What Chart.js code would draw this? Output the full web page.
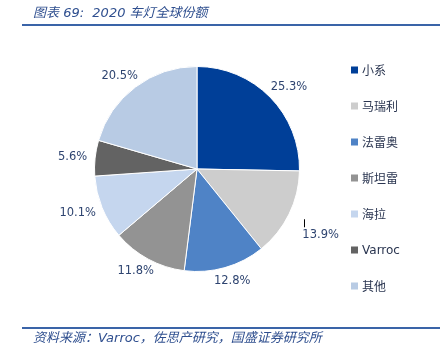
<!DOCTYPE html>
<html><head><meta charset="utf-8">
<script src="https://cdn.jsdelivr.net/npm/chart.js@4.4.1/dist/chart.umd.min.js"></script>
<style>
html,body{margin:0;padding:0;background:#fff;}
#wrap{position:relative;width:441px;height:351px;overflow:hidden;}
canvas{position:absolute;left:0;top:0;}
.t{position:absolute;font-family:"DejaVu Sans","Noto Sans CJK SC",sans-serif;font-style:italic;color:#2F4F8F;white-space:pre;}
.t .c{font-family:"Noto Sans CJK SC",sans-serif;}
#title{left:33px;top:3px;font-size:13px;line-height:18px;}
#foot{left:33px;top:328px;font-size:13px;line-height:18px;}
.rule{position:absolute;left:22px;width:418px;height:2px;background:#3A64A8;}
</style></head>
<body><div id="wrap">
<canvas id="c" width="441" height="351"></canvas>
<div id="title" class="t"><span class="c">图表</span> 69:  2020 <span class="c">车灯全球份额</span></div>
<div class="rule" style="top:24px"></div>
<div class="rule" style="top:327px"></div>
<div id="foot" class="t"><span class="c">资料来源：</span>Varroc<span class="c">，佐思产研究，国盛证券研究所</span></div>
</div>
<script>
const categories = ["小系","马瑞利","法雷奥","斯坦雷","海拉","Varroc","其他"];
const shares = [25.3, 13.9, 12.8, 11.8, 10.1, 5.6, 20.5];
const colors = ["#003F98","#CDCDCD","#4F83C6","#939393","#C5D6EE","#636363","#B8CBE4"];

const labelPlugin = {
  id:'labels',
  afterDatasetsDraw(chart, args, opts){
    const ctx = chart.ctx;
    const meta = chart.getDatasetMeta(0);
    ctx.save();
    ctx.font = '11.5px "DejaVu Sans", Verdana, sans-serif';
    ctx.fillStyle = '#2E4470';
    ctx.textAlign = 'center';
    ctx.textBaseline = 'middle';
    meta.data.forEach((arc, i) => {
      const p = arc.getProps(['x','y','startAngle','endAngle','outerRadius'], true);
      const mid = (p.startAngle + p.endAngle)/2;
      const txt = shares[i].toFixed(1) + '%';
      const w = ctx.measureText(txt).width;
      const cx = Math.cos(mid), sy = Math.sin(mid);
      const r = p.outerRadius + 8;
      let x = p.x + r*cx + (w/2)*cx;
      let y = p.y + r*sy + 6*sy;
      const off = (opts.moved || {})[i];
      if (off) {
        x += off[0]; y += off[1];
        // leader line from label toward slice
        ctx.save();
        ctx.strokeStyle = '#000';
        ctx.lineWidth = 1;
        ctx.beginPath();
        ctx.moveTo(Math.round(x - w/2) + 2.5, y - 8);
        ctx.lineTo(Math.round(x - w/2) + 2.5, y - 16);
        ctx.stroke();
        ctx.restore();
      }
      ctx.fillText(txt, x, y);
    });
    ctx.restore();
    // legend
    ctx.save();
    const lx = 351, ly0 = 70, step = 36;
    categories.forEach((c, i) => {
      const y = ly0 + i*step;
      ctx.fillStyle = colors[i];
      ctx.fillRect(lx, y-3.5, 7, 7);
      ctx.fillStyle = '#2A3550';
      ctx.textAlign = 'left';
      ctx.textBaseline = 'middle';
      ctx.font = (c === 'Varroc' ? '12px "DejaVu Sans", sans-serif' : '12px "Noto Sans CJK SC", sans-serif');
      ctx.fillText(c, lx + 11, y + 0.5);
    });
    ctx.restore();
  }
};

new Chart(document.getElementById('c'), {
  type:'pie',
  data:{labels:categories, datasets:[{data:shares, backgroundColor:colors, borderColor:'#ffffff', borderWidth:1}]},
  options:{
    responsive:false, animation:false,
    layout:{padding:{left:94, right:141, top:66, bottom:79}},
    plugins:{legend:{display:false}, tooltip:{enabled:false}, labels:{moved:{1:[8,15]}}}
  },
  plugins:[labelPlugin]
});
</script>
</body></html>
